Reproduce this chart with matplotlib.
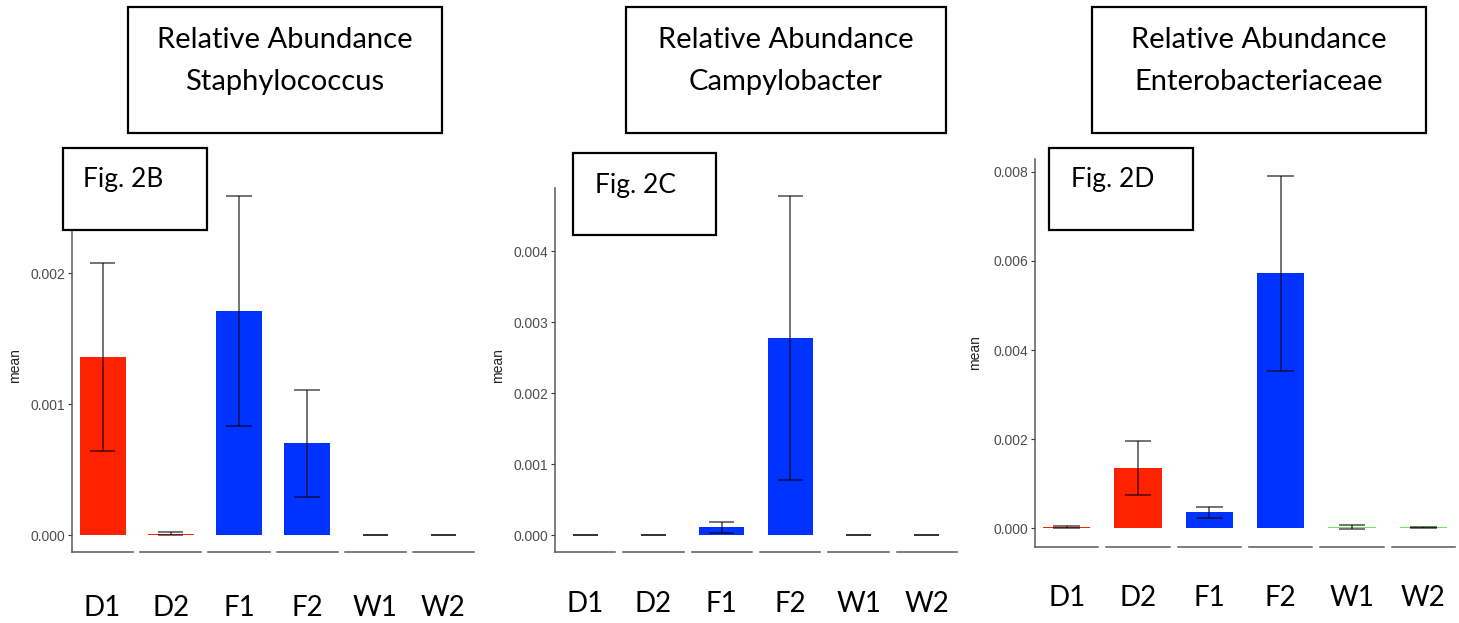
import matplotlib
matplotlib.use("Agg")
import matplotlib.pyplot as plt
from matplotlib.patches import Rectangle
import matplotlib.transforms as mtransforms
from matplotlib.ticker import FixedLocator, FormatStrFormatter
import numpy as np

# ---------------- data ----------------
groups = ["D1", "D2", "F1", "F2", "W1", "W2"]
group_colors = ["#FF2200", "#FF2200", "#0033FF", "#0033FF", "#77DD66", "#77DD66"]

staph_mean = [0.00136, 0.00001, 0.00171, 0.00070, 0.0, 0.0]
staph_se = [0.00072, 0.00001, 0.00088, 0.00041, 0.0, 0.0]

campy_mean = [0.0, 0.0, 0.00011, 0.00278, 0.0, 0.0]
campy_se = [0.0, 0.0, 0.00008, 0.00200, 0.0, 0.0]

entero_mean = [0.00003, 0.00135, 0.00036, 0.00572, 0.00003, 0.00003]
entero_se = [0.00002, 0.00061, 0.00012, 0.00219, 0.00005, 0.00001]

titles = ["Relative Abundance\nStaphylococcus",
          "Relative Abundance\nCampylobacter",
          "Relative Abundance\nEnterobacteriaceae"]
fig_labels = ["Fig. 2B", "Fig. 2C", "Fig. 2D"]

# ---------------- layout ----------------
W, H = 1459, 623
fig = plt.figure(figsize=(W / 100, H / 100), dpi=100)
fig.patch.set_facecolor("white")

BOX_FONT = ["Lato", "DejaVu Sans"]
AX_FONT = ["Liberation Sans", "DejaVu Sans"]


def px_rect(x0, y0, x1, y1):
    return [x0 / W, 1 - y1 / H, (x1 - x0) / W, (y1 - y0) / H]


def fig_box(x0, y0, x1, y1):
    r = Rectangle((x0 / W, 1 - y1 / H), (x1 - x0) / W, (y1 - y0) / H,
                  transform=fig.transFigure, facecolor="white",
                  edgecolor="black", linewidth=1.6, zorder=5)
    fig.add_artist(r)


panels = [
    dict(mean=staph_mean, se=staph_se, left=72, right=474, gap=7, top=179,
         bottom=552, spine_top=179, step=0.001, ylab_x=15, lab_y=608,
         tbox=(128, 7, 442, 133), fbox=(63, 148, 207, 230), ftext=(83, 179)),
    dict(mean=campy_mean, se=campy_se, left=555, right=957, gap=8, top=179,
         bottom=552, spine_top=188, step=0.001, ylab_x=498, lab_y=604,
         tbox=(626, 7, 946, 133), fbox=(573, 153, 716, 235), ftext=(595, 185)),
    dict(mean=entero_mean, se=entero_se, left=1035, right=1455, gap=8, top=158,
         bottom=547, spine_top=159, step=0.002, ylab_x=975, lab_y=598,
         tbox=(1092, 7, 1426, 133), fbox=(1049, 148, 1193, 230), ftext=(1071, 179)),
]

axis_gray = "#5A5A5A"

for p, title, flab in zip(panels, titles, fig_labels):
    m, s = p["mean"], p["se"]
    lows = [a - b for a, b in zip(m, s)]
    highs = [a + b for a, b in zip(m, s)]
    lo = min(min(lows), 0.0)
    hi = max(highs)
    pad = 0.05 * (hi - lo)
    ymin, ymax = lo - pad, hi + pad
    # visible extent of the y axis line (reference is trimmed at the top)
    frac = (p["bottom"] - p["spine_top"]) / (p["bottom"] - p["top"])
    spine_max = ymin + frac * (ymax - ymin)
    ticks = [t for t in np.arange(0, ymax, p["step"]) if t <= spine_max + 1e-12]
    fw = (p["right"] - p["left"] - 5 * p["gap"]) / 6
    for i, g in enumerate(groups):
        x0 = p["left"] + i * (fw + p["gap"])
        ax = fig.add_axes(px_rect(x0, p["top"], x0 + fw, p["bottom"]))
        ax.patch.set_alpha(0)
        ax.bar([0], [m[i]], width=0.9, color=group_colors[i], linewidth=0)
        ax.vlines([0], [lows[i]], [highs[i]], color="black", alpha=0.55, lw=1.4)
        ax.hlines([lows[i], highs[i]], -0.25, 0.25, color="black", alpha=0.55, lw=1.4)
        ax.set_xlim(-0.6, 0.6)
        ax.set_ylim(ymin, ymax)
        ax.set_xticks([])
        for sp in ["top", "right"]:
            ax.spines[sp].set_visible(False)
        ax.spines["bottom"].set_color(axis_gray)
        ax.spines["bottom"].set_linewidth(1.1)
        if i == 0:
            ax.spines["left"].set_color(axis_gray)
            ax.spines["left"].set_linewidth(1.1)
            ax.spines["left"].set_bounds(ymin, spine_max)
            ax.yaxis.set_major_locator(FixedLocator(ticks))
            ax.yaxis.set_major_formatter(FormatStrFormatter("%.3f"))
            ax.tick_params(axis="y", length=3, width=0.8, color="#333333",
                           labelsize=10, labelcolor="#4D4D4D", pad=2)
            for t in ax.get_yticklabels():
                t.set_fontfamily(AX_FONT)
        else:
            ax.spines["left"].set_visible(False)
            ax.tick_params(axis="y", left=False, labelleft=False)
        trans = mtransforms.blended_transform_factory(ax.transData, fig.transFigure)
        ax.text(0, 1 - p["lab_y"] / H, g, transform=trans, ha="center", va="center",
                fontsize=20, family=BOX_FONT, color="black", clip_on=False)

    # y label
    fig.text(p["ylab_x"] / W, 1 - (p["top"] + p["bottom"]) / 2 / H, "mean",
             rotation=90, ha="center", va="center", fontsize=10,
             family=AX_FONT, color="#222222")

    # title box
    x0, y0, x1, y1 = p["tbox"]
    fig_box(x0, y0, x1, y1)
    fig.text((x0 + x1) / 2 / W, 1 - 61 / H, title, ha="center", va="center",
             fontsize=21, family=BOX_FONT, linespacing=1.8, zorder=6)

    # Fig. label box
    x0, y0, x1, y1 = p["fbox"]
    fig_box(x0, y0, x1, y1)
    fx, fy = p["ftext"]
    fig.text(fx / W, 1 - fy / H, flab, ha="left", va="center",
             fontsize=19, family=BOX_FONT, zorder=6)

fig.savefig("out.png", dpi=100)
